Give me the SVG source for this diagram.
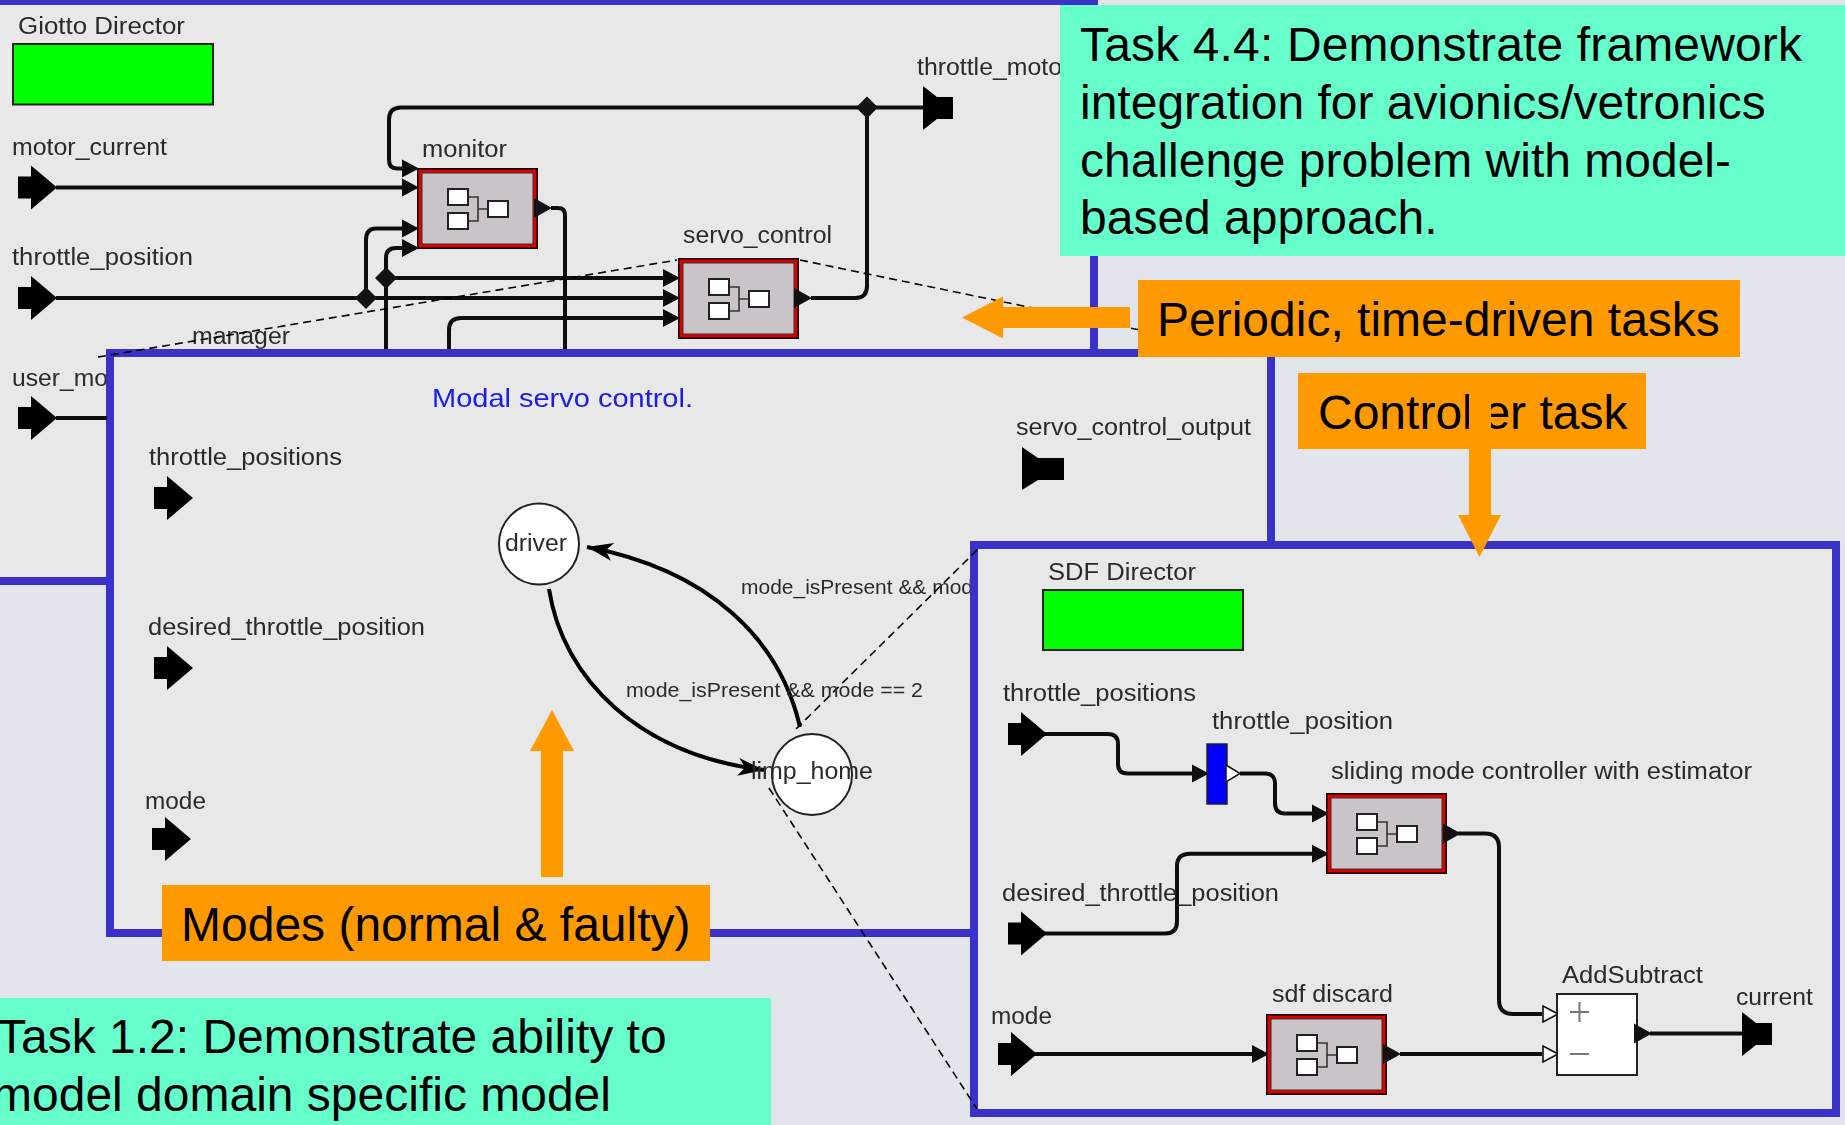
<svg xmlns="http://www.w3.org/2000/svg" width="1845" height="1125" viewBox="0 0 1845 1125">
<style>
.panel{fill:#e8e8e8;stroke:#3a32c8;stroke-width:8}
.lbl{font-family:"Liberation Sans",Arial,sans-serif;font-size:23px;fill:#2a2a2a;filter:url(#soft)}
.sm{font-size:20px}
.big{font-family:"Liberation Sans",Arial,sans-serif;font-size:48px;fill:#000}
.wire{fill:none;stroke:#111;stroke-width:4;stroke-linejoin:round}
.dash{fill:none;stroke:#000;stroke-width:1.6;stroke-dasharray:8 5}
.green{fill:#00ff00;stroke:#222;stroke-width:2}
.orange{fill:#ff9900}
.teal{fill:#66ffcc}
.st{fill:#fff;stroke:#222;stroke-width:2}
.icon{fill:#fff;stroke:#222;stroke-width:2}
.iline{fill:none;stroke:#333;stroke-width:1.6}
</style>
<defs>
<filter id="soft" x="-5%" y="-20%" width="110%" height="140%"><feGaussianBlur stdDeviation="0.45"/></filter>
<marker id="in" markerUnits="userSpaceOnUse" markerWidth="18" markerHeight="20" refX="0" refY="10" orient="auto"><polygon points="0,1 17,10 0,19" fill="#111"/></marker>
<marker id="inw" markerUnits="userSpaceOnUse" markerWidth="18" markerHeight="20" refX="0" refY="10" orient="auto"><polygon points="1,2 16,10 1,18" fill="#fff" stroke="#111" stroke-width="1.6"/></marker>
<marker id="stealth" markerUnits="userSpaceOnUse" markerWidth="30" markerHeight="24" refX="28" refY="12" orient="auto"><polygon points="2,3 28,12 2,21 9,12" fill="#000"/></marker>
<polygon id="pIn" points="0,-11 13,-11 13,-22 39,0 13,22 13,11 0,11" fill="#000"/>
<polygon id="pOut" points="0,-22 14,-11 30,-11 30,11 14,11 0,22" fill="#000"/>
<polygon id="tOut" points="0,-10 18,0 0,10" fill="#111"/>
<polygon id="dia" points="0,-11 11,0 0,11 -11,0" fill="#111"/>
<g id="comp">
<rect x="0" y="0" width="121" height="81" fill="#000"/>
<rect x="1.5" y="1.5" width="118" height="78" fill="#e00000"/>
<rect x="5" y="5" width="111" height="71" fill="#c8c4c8" stroke="#333" stroke-width="1"/>
<path class="iline" d="M51,29H61V53H51M61,41H71"/>
<rect class="icon" x="31" y="21" width="20" height="16"/>
<rect class="icon" x="31" y="45" width="20" height="16"/>
<rect class="icon" x="71" y="33" width="20" height="16"/>
</g>
</defs>
<rect width="1845" height="1125" fill="#e3e5ec"/>

<rect id="panel-giotto" class="panel" x="-10" y="1" width="1104" height="580"/>
<g id="giotto-director"><text class="lbl" x="18" y="34" textLength="167" lengthAdjust="spacingAndGlyphs">Giotto Director</text><rect class="green" x="13" y="44" width="200" height="60.500"/></g>
<g id="motor-current"><text class="lbl" x="12" y="155" textLength="155" lengthAdjust="spacingAndGlyphs">motor_current</text><use href="#pIn" x="18" y="187.500"/></g>
<g id="throttle-position"><text class="lbl" x="12" y="265" textLength="181" lengthAdjust="spacingAndGlyphs">throttle_position</text><use href="#pIn" x="18" y="298"/></g>
<g id="user-mode"><text class="lbl" x="12" y="386" textLength="96" lengthAdjust="spacingAndGlyphs">user_mo</text><use href="#pIn" x="18" y="418"/></g>
<g id="manager"><text class="lbl" x="192" y="344" textLength="98" lengthAdjust="spacingAndGlyphs">manager</text></g>
<g id="throttle-motor"><text class="lbl" x="917" y="75" textLength="145" lengthAdjust="spacingAndGlyphs">throttle_moto</text><use href="#pOut" x="923" y="108"/></g>
<g id="monitor"><text class="lbl" x="422" y="157" textLength="85" lengthAdjust="spacingAndGlyphs">monitor</text><use href="#comp" x="417" y="168"/><use href="#tOut" x="534" y="208"/></g>
<g id="servo-control"><text class="lbl" x="683" y="243" textLength="149" lengthAdjust="spacingAndGlyphs">servo_control</text><use href="#comp" x="678" y="258"/><use href="#tOut" x="794" y="298"/></g>
<rect id="task-44-box" class="teal" x="1060" y="5" width="785" height="251"/>

<rect id="panel-modal" class="panel" x="110" y="353" width="1161" height="580"/>
<g id="modal-title"><text class="lbl" x="432" y="407" textLength="261" lengthAdjust="spacingAndGlyphs" style="fill:#1a1aee;font-size:25px">Modal servo control.</text></g>
<g id="modal-throttle-positions"><text class="lbl" x="149" y="465" textLength="193" lengthAdjust="spacingAndGlyphs">throttle_positions</text><use href="#pIn" x="154" y="498"/></g>
<g id="modal-desired"><text class="lbl" x="148" y="635" textLength="277" lengthAdjust="spacingAndGlyphs">desired_throttle_position</text><use href="#pIn" x="154" y="668"/></g>
<g id="modal-mode"><text class="lbl" x="145" y="809" textLength="61" lengthAdjust="spacingAndGlyphs">mode</text><use href="#pIn" x="152" y="839"/></g>
<g id="servo-control-output"><text class="lbl" x="1016" y="435" textLength="235" lengthAdjust="spacingAndGlyphs">servo_control_output</text><polygon points="1022,447 1038,458 1064,458 1064,480 1038,480 1022,490" fill="#000"/></g>
<g id="guard-1"><text class="lbl sm" x="741" y="594" textLength="232" lengthAdjust="spacingAndGlyphs">mode_isPresent &amp;&amp; mod</text></g>

<rect id="panel-sdf" class="panel" x="974" y="545" width="862" height="568"/>

<g id="connectors" filter="url(#soft)">
<path class="wire" marker-end="url(#in)" d="M923,107.500H401Q389,107.500 389,119.500V160Q389,168.500 397,168.500H402"/>
<path class="wire" marker-end="url(#in)" d="M56,187.500H402"/>
<path class="wire" marker-end="url(#in)" d="M56,298H663"/>
<path class="wire" marker-end="url(#in)" d="M366,298V240Q366,228.500 376,228.500H402"/>
<path class="wire" marker-end="url(#in)" d="M386,349V258Q386,248 396,248H402"/>
<path class="wire" marker-end="url(#in)" d="M386,278H663"/>
<path class="wire" marker-end="url(#in)" d="M449,349V330Q449,318 461,318H663"/>
<path class="wire" d="M551,208H558Q565,208 565,215V349"/>
<path class="wire" d="M811,298H855Q867,298 867,286V107.500"/>
<path class="wire" d="M56,418H107"/>
<path d="M549,589C563,680 640,755 764,770" fill="none" stroke="#000" stroke-width="4" marker-end="url(#stealth)"/>
<path d="M800,727C780,640 710,570 587,547" fill="none" stroke="#000" stroke-width="4" marker-end="url(#stealth)"/>
<path class="wire" marker-end="url(#in)" d="M1044,734H1108Q1118,734 1118,744V764Q1118,773.500 1128,773.500H1192"/>
<path class="wire" d="M1240,773.500H1265Q1275,773.500 1275,783.500V803Q1275,813.500 1285,813.500"/>
<path class="wire" marker-end="url(#in)" d="M1285,813.500H1312"/>
<path class="wire" marker-end="url(#in)" d="M1044,933.500H1165Q1177,933.500 1177,921.500V866Q1177,853.700 1190,853.700H1312"/>
<path class="wire" marker-end="url(#in)" d="M1034,1054H1252"/>
<path class="wire" marker-end="url(#inw)" d="M1400,1054H1542"/>
<path class="wire" marker-end="url(#inw)" d="M1458,833.600H1485Q1499,833.600 1499,847.600V1000Q1499,1014 1513,1014H1542"/>
<path class="wire" d="M1650,1033.600H1744"/>
<path class="dash" d="M98,357L677,260M800,260L1140,330M796,729L978,549M769,788L977,1109"/>
</g>
<g id="joints"><use href="#dia" x="867" y="107.500"/><use href="#dia" x="366" y="298"/><use href="#dia" x="386" y="278"/></g>

<g id="driver"><ellipse class="st" cx="539" cy="544" rx="40" ry="40.500"/><text class="lbl" x="505" y="551" textLength="62" lengthAdjust="spacingAndGlyphs">driver</text></g>
<g id="limp-home"><ellipse class="st" cx="812" cy="774.500" rx="40" ry="40.500"/><text class="lbl" x="751" y="779" textLength="122" lengthAdjust="spacingAndGlyphs">limp_home</text></g>
<g id="guard-2"><text class="lbl sm" x="626" y="697" textLength="297" lengthAdjust="spacingAndGlyphs">mode_isPresent &amp;&amp; mode == 2</text></g>

<g id="sdf-director"><text class="lbl" x="1048" y="580" textLength="148" lengthAdjust="spacingAndGlyphs">SDF Director</text><rect class="green" x="1043" y="590" width="200" height="60"/></g>
<g id="sdf-throttle-positions"><text class="lbl" x="1003" y="701" textLength="193" lengthAdjust="spacingAndGlyphs">throttle_positions</text><use href="#pIn" x="1008" y="734"/></g>
<g id="sdf-throttle-position"><text class="lbl" x="1212" y="729" textLength="181" lengthAdjust="spacingAndGlyphs">throttle_position</text><rect x="1207" y="744" width="20" height="60" fill="#0000ff" stroke="#222" stroke-width="1.500"/><polygon points="1192,765 1208,773.500 1192,782" fill="#111"/><polygon points="1226,765 1240,773.500 1226,782" fill="#fff" stroke="#111" stroke-width="1.500"/></g>
<g id="sdf-desired"><text class="lbl" x="1002" y="901" textLength="277" lengthAdjust="spacingAndGlyphs">desired_throttle_position</text><use href="#pIn" x="1008" y="933.500"/></g>
<g id="sdf-mode"><text class="lbl" x="991" y="1024" textLength="61" lengthAdjust="spacingAndGlyphs">mode</text><use href="#pIn" x="998" y="1054"/></g>
<g id="sliding-mode-controller"><text class="lbl" x="1331" y="779" textLength="421" lengthAdjust="spacingAndGlyphs">sliding mode controller with estimator</text><use href="#comp" x="1326" y="793"/><use href="#tOut" x="1443" y="833.600"/></g>
<g id="sdf-discard"><text class="lbl" x="1272" y="1002" textLength="121" lengthAdjust="spacingAndGlyphs">sdf discard</text><use href="#comp" x="1266" y="1014"/><use href="#tOut" x="1383" y="1054"/></g>
<g id="add-subtract"><text class="lbl" x="1562" y="983" textLength="141" lengthAdjust="spacingAndGlyphs">AddSubtract</text><rect x="1557" y="994" width="80" height="81" fill="#fff" stroke="#222" stroke-width="2"/><path d="M1570,1012H1589M1579.500,1002V1022M1570,1054H1589" stroke="#777" stroke-width="2" fill="none"/><use href="#tOut" x="1634" y="1033.600"/></g>
<g id="current"><text class="lbl" x="1736" y="1005" textLength="77" lengthAdjust="spacingAndGlyphs">current</text><use href="#pOut" x="1742" y="1034"/></g>

<g id="task-44"><text class="big" x="1080" y="61" textLength="722">Task 4.4: Demonstrate framework</text><text class="big" x="1080" y="119">integration for avionics/vetronics</text><text class="big" x="1080" y="177">challenge problem with model-</text><text class="big" x="1080" y="234">based approach.</text></g>
<g id="periodic"><rect class="orange" x="1138" y="280" width="602" height="77"/><text class="big" x="1157" y="336">Periodic, time-driven tasks</text><polygon class="orange" points="962,317.500 1003,296.500 1003,307 1130,307 1130,328 1003,328 1003,338.500"/></g>
<g id="controller"><rect class="orange" x="1298" y="373" width="348" height="76"/><text class="big" x="1318" y="429">Controller task</text><polygon class="orange" points="1469,385 1491,385 1491,515 1501,515 1479.500,557 1458,515 1469,515"/></g>
<g id="modes"><rect class="orange" x="162" y="885" width="548" height="76"/><text class="big" x="181" y="941">Modes (normal &amp; faulty)</text><polygon class="orange" points="541,877 563,877 563,751 574,751 552,710 530,751 541,751"/></g>
<g id="task-12"><rect class="teal" x="0" y="998" width="771" height="127"/><text class="big" x="-3" y="1053">Task 1.2: Demonstrate ability to</text><text class="big" x="-8" y="1111">model domain specific model</text></g>
</svg>
